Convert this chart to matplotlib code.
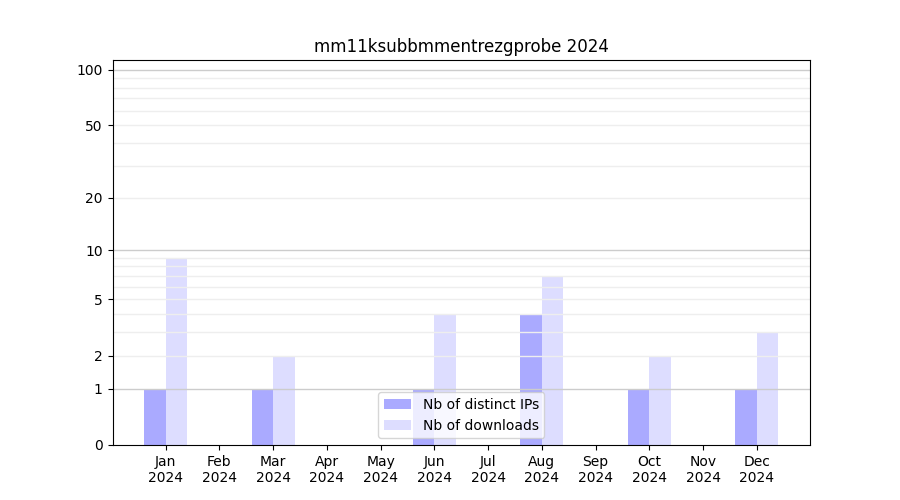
import numpy as np
import matplotlib
matplotlib.use('Agg')
import matplotlib.pyplot as plt
from matplotlib.ticker import FixedLocator, FixedFormatter, NullLocator

mois = ['Jan', 'Feb', 'Mar', 'Apr', 'May', 'Jun', 'Jul', 'Aug', 'Sep', 'Oct', 'Nov', 'Dec']
annee = '2024'
ips_distinctes = [1, 0, 1, 0, 0, 1, 0, 4, 0, 1, 0, 1]
telechargements = [9, 0, 2, 0, 0, 4, 0, 7, 0, 2, 0, 3]

def fwd(y):
    return np.log10(np.clip(y, 0, None) + 1)

def inv(y):
    return 10 ** y - 1

fig, ax = plt.subplots(figsize=(9, 5), dpi=100)
x = np.arange(len(mois))
ax.bar(x - 0.2, ips_distinctes, width=0.4, color='#aaaaff', label='Nb of distinct IPs')
ax.bar(x + 0.2, telechargements, width=0.4, color='#ddddff', label='Nb of downloads')

ax.set_yscale('function', functions=(fwd, inv))
ax.set_ylim(0, 113)
ax.yaxis.set_major_locator(FixedLocator([0, 1, 2, 5, 10, 20, 50, 100]))
ax.yaxis.set_major_formatter(FixedFormatter(['0', '1', '2', '5', '10', '20', '50', '100']))
ax.yaxis.set_minor_locator(NullLocator())

# lignes horizontales par-dessus les barres, sous les bords
mineurs = [2, 3, 4, 5, 6, 7, 8, 9, 20, 30, 40, 50, 60, 70, 80, 90]
for v in [1, 10, 100]:
    ax.axhline(v, color='#cccccc', linewidth=1, zorder=2)
for v in mineurs:
    ax.axhline(v, color='#eeeeee', linewidth=1, zorder=2)

ax.set_xticks(x)
ax.set_xticklabels([m + '\n' + annee for m in mois])
ax.set_title('mm11ksubbmmentrezgprobe ' + annee)
ax.legend(loc='lower center')

plt.savefig('out.png')
